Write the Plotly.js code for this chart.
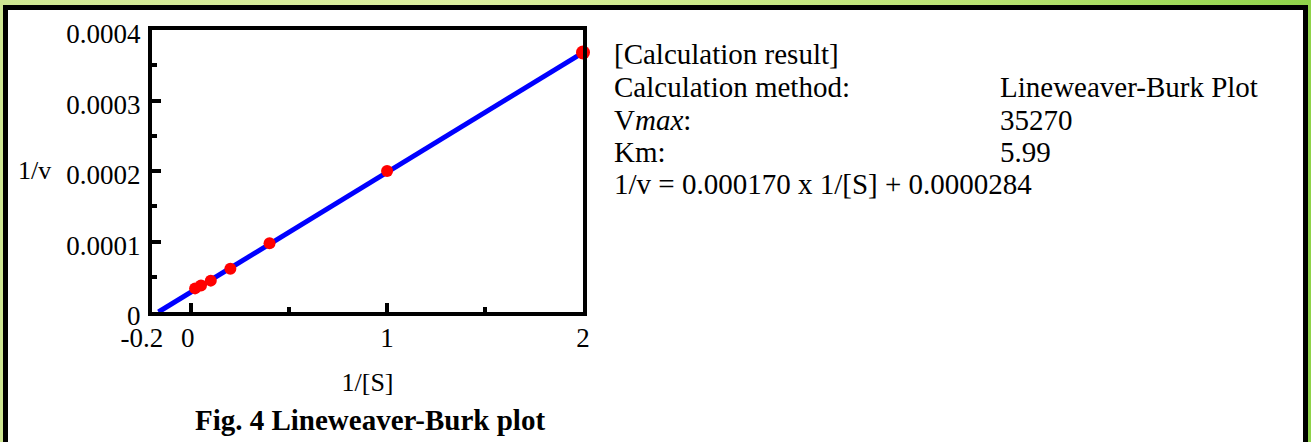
<!DOCTYPE html>
<html>
<head>
<meta charset="utf-8">
<script src="https://cdn.plot.ly/plotly-3.0.1.min.js"></script>
<style>
  html, body { margin:0; padding:0; }
  body { width:1311px; height:442px; overflow:hidden; position:relative;
         background: linear-gradient(to right, #cfe793 0%, #dcef9f 35%, #b9e272 75%, #8fd34a 100%); }
  #frame { position:absolute; left:3px; top:5px; width:1295px; height:460px;
           border:5px solid #000; background:#fff; }
  #chart { position:absolute; left:0; top:0; width:1311px; height:442px; }
</style>
</head>
<body>
<div id="frame"></div>
<div id="chart"></div>
<script>
// ---- data ----
const invS = [0.02, 0.05, 0.1, 0.2, 0.4, 1, 2];
const invV = [0.0000335, 0.0000375, 0.0000445, 0.0000615, 0.0000975, 0.0002, 0.000368];
const fitX = [-0.167, 2];
const fitY = [0, 0.000368];
const xTickVals = [-0.2, 0, 1, 2];
const xTickText = ['-0.2', '0', '1', '2'];
const xMinorVals = [0.5, 1.5];
const yTickVals = [0, 0.0001, 0.0002, 0.0003, 0.0004];
const yTickText = ['0', '0.0001', '0.0002', '0.0003', '0.0004'];
const yMinorVals = [0.00005, 0.00015, 0.00025, 0.00035];
const resultLabels = ['[Calculation result]', 'Calculation method:', 'V<i>max</i>:', 'Km:', '1/v = 0.000170 x 1/[S] + 0.0000284'];
const resultValues = ['', 'Lineweaver-Burk Plot', '35270', '5.99', ''];

// ---- styling ----
const FONT = 'Liberation Serif';
const markerSizes = invS.map((x, i) => i === invS.length - 1 ? 14 : 12);
// small left nudges of the first two x tick labels, as in the reference
const xTickShown = xTickText.map((t, i) => i === 0 ? t + '\u00a0\u00a0\u00a0' : (i === 1 ? t + '\u00a0' : t));

const traces = [
  { x: fitX, y: fitY, mode: 'lines', type: 'scatter',
    line: { color: '#0000ff', width: 5 }, hoverinfo: 'skip', cliponaxis: false },
  { x: invS, y: invV, mode: 'markers', type: 'scatter',
    marker: { color: '#ff0000', size: markerSizes, opacity: 1, line: { width: 0 } }, cliponaxis: false }
];

const rowY = [54, 87, 120, 152, 184];
const annotations = [];
resultLabels.forEach((t, i) => {
  annotations.push({ xref: 'paper', yref: 'paper', x: (612 - 152) / 431, y: (312 - rowY[i]) / 282,
    xanchor: 'left', yanchor: 'middle', text: t, showarrow: false,
    font: { family: FONT, size: 29, color: '#000' } });
  if (resultValues[i]) annotations.push({ xref: 'paper', yref: 'paper', x: (998 - 152) / 431, y: (312 - rowY[i]) / 282,
    xanchor: 'left', yanchor: 'middle', text: resultValues[i], showarrow: false,
    font: { family: FONT, size: 29, color: '#000' } });
});
annotations.push({ xref: 'paper', yref: 'paper', x: (34 - 152) / 431, y: (312 - 170) / 282,
  xanchor: 'center', yanchor: 'middle', text: '1/v', showarrow: false,
  font: { family: FONT, size: 26, color: '#000' } });

const layout = {
  width: 1311, height: 442,
  margin: { l: 152, r: 728, t: 30, b: 130, pad: 0 },
  paper_bgcolor: 'rgba(0,0,0,0)', plot_bgcolor: '#fff',
  showlegend: false,
  font: { family: FONT, size: 26, color: '#000' },
  title: { text: '<b>Fig. 4 Lineweaver-Burk plot</b>', font: { family: FONT, size: 29, color: '#000' },
           xref: 'container', yref: 'container', x: 370 / 1311, y: 1 - 420 / 442, xanchor: 'center', yanchor: 'middle' },
  xaxis: { range: [-0.2, 2], showgrid: false, zeroline: false, showline: true, mirror: true,
           linecolor: '#000', linewidth: 4, tickmode: 'array', tickvals: xTickVals, ticktext: xTickShown,
           tickangle: 0,
           ticks: 'inside', ticklen: 9, tickwidth: 4, tickcolor: '#000', ticklabelstandoff: -1,
           minor: { tickmode: 'array', tickvals: xMinorVals, ticks: 'inside', ticklen: 5, tickwidth: 4, tickcolor: '#000', showgrid: false },
           title: { text: '1/[S]', standoff: 21, font: { family: FONT, size: 26 } },
           tickfont: { family: FONT, size: 27 } },
  yaxis: { range: [0, 0.0004], showgrid: false, zeroline: false, showline: true, mirror: true,
           linecolor: '#000', linewidth: 4, tickmode: 'array', tickvals: yTickVals, ticktext: yTickText,
           ticks: 'inside', ticklen: 9, tickwidth: 4, tickcolor: '#000', ticklabelstandoff: 2, ticklabelshift: 4,
           minor: { tickmode: 'array', tickvals: yMinorVals, ticks: 'inside', ticklen: 5, tickwidth: 4, tickcolor: '#000', showgrid: false },
           tickfont: { family: FONT, size: 27 } },
  annotations: annotations
};

Plotly.newPlot('chart', traces, layout, { displayModeBar: false, staticPlot: true });
</script>
</body>
</html>
